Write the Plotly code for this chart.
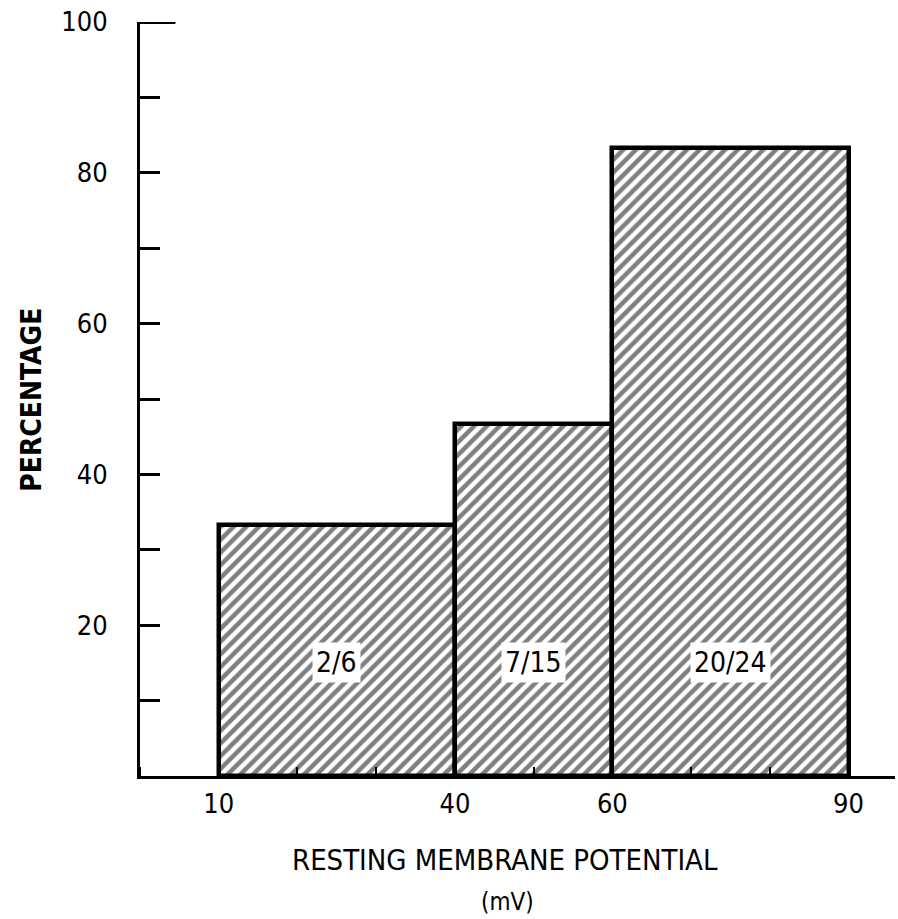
import plotly.graph_objects as go

bin_edges = [10, 40, 60, 90]
percentages = [33.3, 46.7, 83.3]
bar_labels = ["2/6", "7/15", "20/24"]
x_tick_vals = [10, 40, 60, 90]
y_tick_vals = [20, 40, 60, 80, 100]

centers = [(a + b) / 2 for a, b in zip(bin_edges[:-1], bin_edges[1:])]
widths = [b - a for a, b in zip(bin_edges[:-1], bin_edges[1:])]

FONT = "DejaVu Sans Condensed, Liberation Sans Narrow, Roboto Condensed, Arial Narrow, sans-serif"

fig = go.Figure()
fig.add_trace(go.Bar(
    x=centers, y=percentages, width=widths,
    marker=dict(color="white",
                line=dict(color="black", width=4.5),
                pattern=dict(shape="/", fgcolor="black", bgcolor="white",
                             size=9, solidity=0.5)),
    showlegend=False, hoverinfo="skip",
))

for c, lab in zip(centers, bar_labels):
    fig.add_annotation(x=c, y=15, text=lab, showarrow=False,
                       font=dict(family=FONT, size=28, color="black"),
                       bgcolor="white", borderpad=3)

fig.add_shape(type="line", x0=0, x1=4.5, y0=100, y1=100,
              line=dict(color="black", width=4), layer="above")

fig.add_annotation(xref="paper", yref="paper", x=0.483, y=-0.111,
                   xanchor="center", yanchor="middle",
                   text="RESTING MEMBRANE POTENTIAL", showarrow=False,
                   font=dict(family=FONT, size=29, color="black"))
fig.add_annotation(xref="paper", yref="paper", x=0.487, y=-0.167,
                   xanchor="center", yanchor="middle",
                   text="(mV)", showarrow=False,
                   font=dict(family=FONT, size=24, color="black"))
fig.add_annotation(xref="paper", yref="paper", x=-0.143, y=0.499,
                   xanchor="center", yanchor="middle",
                   text="<b>PERCENTAGE</b>", showarrow=False, textangle=-90,
                   font=dict(family=FONT, size=28, color="black"))

fig.update_layout(
    width=898, height=919,
    margin=dict(l=140, r=3, t=22, b=143),
    plot_bgcolor="white", paper_bgcolor="white",
    bargap=0,
    font=dict(family=FONT, size=27, color="black"),
    xaxis=dict(range=[0, 95.9], tickvals=x_tick_vals, ticks="",
               showline=True, linecolor="black", linewidth=3,
               showgrid=False, zeroline=False, ticklabelstandoff=2,
               minor=dict(tick0=0, dtick=10, ticks="inside", ticklen=9,
                          tickwidth=2, tickcolor="black", showgrid=False)),
    yaxis=dict(range=[0, 100], tickvals=y_tick_vals, ticks="inside",
               ticklen=20, tickwidth=3, tickcolor="black",
               showline=True, linecolor="black", linewidth=3,
               showgrid=False, zeroline=False, ticklabelstandoff=24,
               minor=dict(tick0=0, dtick=10, ticks="inside", ticklen=20,
                          tickwidth=3, tickcolor="black", showgrid=False)),
)

fig.write_html("out.html")
